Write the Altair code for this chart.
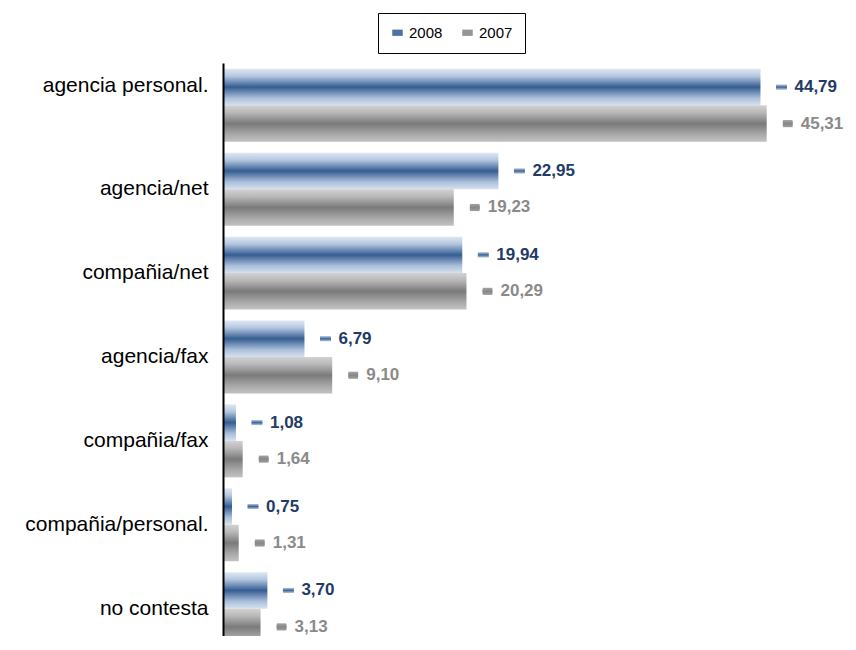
import altair as alt
import pandas as pd

categories = ["agencia personal.", "agencia/net", "compañia/net", "agencia/fax",
              "compañia/fax", "compañia/personal.", "no contesta"]
series_names = ["2008", "2007"]
values_2008 = [44.79, 22.95, 19.94, 6.79, 1.08, 0.75, 3.70]
values_2007 = [45.31, 19.23, 20.29, 9.10, 1.64, 1.31, 3.13]
text_colors = {"2008": "#1f3b66", "2007": "#8a8a8a"}

rows = []
for s, vals in zip(series_names, [values_2008, values_2007]):
    for c, v in zip(categories, vals):
        rows.append({"cat": c, "series": s, "value": v,
                     "label": f"{v:.2f}".replace(".", ","),
                     "tcolor": text_colors[s]})
df = pd.DataFrame(rows)


def grad(stops):
    return alt.Gradient(gradient="linear", x1=0, x2=0, y1=0, y2=1,
                        stops=[alt.GradientStop(color=c, offset=o) for o, c in stops])


blue_grad = grad([(0, "#dfe8f3"), (0.2, "#b4c7e0"), (0.5, "#355d92"), (0.8, "#aabfdb"), (1, "#d6e1ee")])
gray_grad = grad([(0, "#d2d2d2"), (0.2, "#b8b8b8"), (0.5, "#7a7a7a"), (0.8, "#a9a9a9"), (1, "#c2c2c2")])
blue_mark_grad = grad([(0, "#b3c6df"), (0.5, "#3d6397"), (1, "#b3c6df")])
gray_mark_grad = grad([(0, "#a3a3a3"), (0.5, "#878787"), (1, "#9e9e9e")])

FONT = "Liberation Sans"

y_enc = alt.Y(
    "cat:N", sort=categories, title=None,
    scale=alt.Scale(paddingInner=0.13, paddingOuter=0.07, range=[0, 588]),
    axis=alt.Axis(
        domain=True, domainColor="black", domainWidth=2, ticks=False,
        labelFont=FONT, labelFontSize=21, labelColor="black", labelPadding=15,
        labelLimit=300, zindex=1,
        labelOffset={"condition": {"test": "datum.value == 'agencia personal.'", "value": -19},
                     "value": 0},
    ),
)
yoff = alt.YOffset("series:N", sort=series_names,
                   scale=alt.Scale(domain=series_names, paddingInner=0, paddingOuter=0))
x_enc = alt.X("value:Q", scale=alt.Scale(domain=[0, 50]), axis=None)

base = alt.Chart(df).encode(y=y_enc, yOffset=yoff, x=x_enc)

bars08 = base.transform_filter("datum.series == '2008'").mark_bar(fill=blue_grad)
bars07 = base.transform_filter("datum.series == '2007'").mark_bar(fill=gray_grad)

legend_layer = base.mark_point(
    shape="M-1,-0.45H1V0.45H-1Z", filled=True, size=100, xOffset=21, opacity=1
).encode(
    color=alt.Color(
        "series:N", sort=series_names,
        scale=alt.Scale(domain=series_names, range=["#4d73a5", "#959595"]),
        legend=alt.Legend(
            title=None, orient="none", legendX=155, legendY=-50,
            direction="horizontal", strokeColor="black", fillColor="white",
            padding=12, labelFont=FONT, labelFontSize=15, labelColor="black",
            symbolType="M-1,-0.6H1V0.6H-1Z", symbolSize=110, symbolStrokeWidth=0,
            symbolOpacity=1, columnPadding=17, labelOffset=4,
        ),
    )
)

mark08 = base.transform_filter("datum.series == '2008'").mark_point(
    shape="M-1,-0.45H1V0.45H-1Z", filled=True, size=121, xOffset=21, opacity=1,
    fill=blue_mark_grad, strokeWidth=0)
mark07 = base.transform_filter("datum.series == '2007'").mark_point(
    shape="M-1,-0.75H1V0.75H-1Z", filled=True, size=90, xOffset=21, opacity=1,
    fill=gray_mark_grad, strokeWidth=0)

labels = base.mark_text(
    align="left", baseline="middle", dx=34, font=FONT, fontSize=17, fontWeight="bold"
).encode(text="label:N", color=alt.Color("tcolor:N", scale=None))

chart = alt.layer(bars08, bars07, legend_layer, mark08, mark07, labels).properties(
    width=600, height=573,
    autosize=alt.AutoSizeParams(type="none"),
    padding={"left": 215, "top": 55, "right": 25, "bottom": 0},
).configure_view(stroke=None)

chart.save("out.html", embed_options={"renderer": "svg", "actions": False})
